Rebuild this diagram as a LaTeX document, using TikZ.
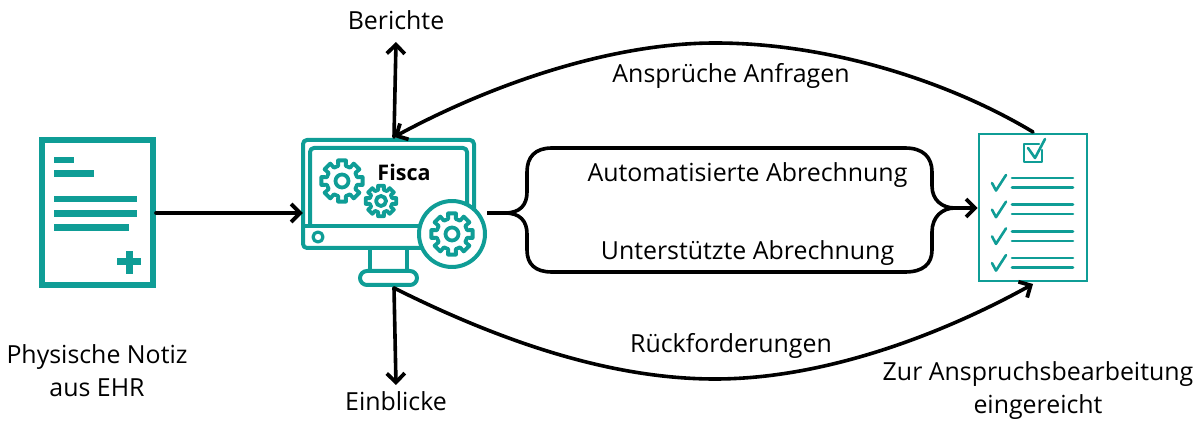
\documentclass[tikz,border=0pt]{standalone}
\usepackage{fontspec}
\setmainfont{Open Sans}
\usetikzlibrary{arrows.meta}
\definecolor{teal1}{HTML}{0F9D96}
\tikzset{
  x=1pt,y=-1pt,
  conn/.style={draw=black,line width=3.6pt,line cap=round,line join=round,-{Straight Barb[length=9pt,width=18pt,line width=3.8pt]}},
  plainconn/.style={draw=black,line width=3.6pt,line join=round},
  lab/.style={font=\fontsize{24.9}{33}\selectfont,text=black,align=center,inner sep=0pt},
  tl/.style={draw=teal1,line width=4pt,line join=round,line cap=round},
  tlthin/.style={draw=teal1,line width=2.6pt,line join=round,line cap=round},
  bar/.style={fill=teal1,draw=none},
}
\newcommand{\gearicon}[4]{% x,y,R,ring
  \begin{scope}[shift={(#1,#2)}]
    \pgfmathsetmacro{\rb}{#3*0.74}
    \draw[tl,line width=3.8pt,fill=white] (-15:\rb)
      \foreach \a in {0,45,...,315} { -- (\a-14:\rb) -- (\a-11:#3) -- (\a+11:#3) -- (\a+14:\rb) } -- cycle;
    \draw[tl,line width=3.8pt] (0,0) circle[radius=#4];
  \end{scope}}
\begin{document}
\begin{tikzpicture}
\useasboundingbox (0,0) rectangle (1204,427);
% document
\node[draw=teal1,line width=6pt,minimum width=111pt,minimum height=145pt,inner sep=0pt] (doc) at (97.5,212.5) {};
\fill[bar] (54,157) rectangle (74,163.5);
\fill[bar] (54,170) rectangle (93.5,177);
\fill[bar] (54,196) rectangle (137,202.5);
\fill[bar] (54,210) rectangle (137,217);
\fill[bar] (54,224) rectangle (128.5,231);
\fill[bar] (117,258.5) rectangle (141,265.5);
\fill[bar] (125.5,251) rectangle (132.5,274);
% monitor
\node[inner sep=0pt,minimum width=171pt,minimum height=108pt] (mon) at (388.5,194) {};
\draw[tl,fill=white] (370,248) -- (370,271) (407,248) -- (407,271);
\draw[tl,fill=white,rounded corners=7pt] (360,271) rectangle (417,285);
\draw[tl,rounded corners=4pt] (303,140) rectangle (474,248);
\draw[tl,rounded corners=4pt] (310,226) -- (310,148) -- (467,148) -- (467,226);
\draw[tl] (303,226) -- (440,226);
\draw[tl,line width=3.2pt] (318,237) circle[radius=5];
\gearicon{342}{181}{21}{6.5}
\gearicon{381}{201}{15.5}{5}
\draw[tl,fill=white] (452,234) circle[radius=33];
\gearicon{452}{234}{21}{6.5}
\node[font=\fontsize{21.5}{26}\selectfont\bfseries,inner sep=0pt] (fisca) at (404,172) {Fisca};
% checklist
\node[draw=teal1,line width=2.6pt,minimum width=108pt,minimum height=147pt,inner sep=0pt] (chk) at (1033,207.5) {};
\draw[tlthin] (1039,144) -- (1024,144) -- (1024,162) -- (1042,162) -- (1042,150);
\draw[tlthin] (1028,148) -- (1035,158) -- (1045,139);
\foreach \d in {0,26.7,53.4,80.1}{
  \draw[tlthin,shift={(0,\d)}] (992,183) -- (996,190.5) -- (1006,175);
  \draw[tlthin,shift={(0,\d)}] (1012,178) -- (1073,178);
  \draw[tlthin,shift={(0,\d)}] (1012,187.5) -- (1073,187.5);
}
% coordinates
\coordinate (upEnd) at (396,42);
\coordinate (upStart) at (394,137);
\coordinate (downEnd) at (396,385);
\coordinate (downStart) at (394,288);
\coordinate (topR) at (1033,132);
\coordinate (botR) at (1033,284);
\coordinate (topMid) at (715,43);
\coordinate (botMid) at (715,379);
% connectors
\draw[conn] (doc.east |- 0,213) -- (mon.west |- 0,213);
\draw[conn] (upStart) -- (upEnd);
\draw[conn] (downStart) -- (downEnd);
\draw[conn] (topR) .. controls (950,82) and (830,43) .. (topMid) .. controls (610,43) and (490,85) .. (upStart);
\draw[conn] (downStart) .. controls (500,341) and (610,379) .. (botMid) .. controls (830,379) and (950,330) .. (botR);
% brace
\draw[plainconn] (487,213) -- (505,213) .. controls (520,213) and (527,205) .. (527,192) -- (527,172)
  .. controls (527,157) and (535,148) .. (552,148) -- (905,148)
  .. controls (923,148) and (932,157) .. (932,172) -- (932,186)
  .. controls (932,200) and (942,208) .. (955,208);
\draw[plainconn] (505,213) .. controls (520,213) and (527,221) .. (527,234) -- (527,250)
  .. controls (527,264) and (535,272) .. (552,272) -- (905,272)
  .. controls (923,272) and (932,264) .. (932,250) -- (932,232)
  .. controls (932,217) and (942,208) .. (955,208);
\coordinate (braceEnd) at (955,208);
\draw[conn] (braceEnd) -- (chk.west |- braceEnd);
% labels
\node[lab] (l1) at (396,20) {Berichte};
\node[lab] (l2) at (396,401) {Einblicke};
\node[lab] (l3) at (731,76) {Ansprüche Anfragen};
\node[lab] (l4) at (731,346) {Rückforderungen};
\node[lab] (l5) at (747.5,175) {Automatisierte Abrechnung};
\node[lab] (l6) at (747.5,253) {Unterstützte Abrechnung};
\node[lab] (l7) at (97,371) {Physische Notiz\\aus EHR};
\node[lab] (l8) at (1038,391) {Zur Anspruchsbearbeitung\\eingereicht};
\end{tikzpicture}
\end{document}
